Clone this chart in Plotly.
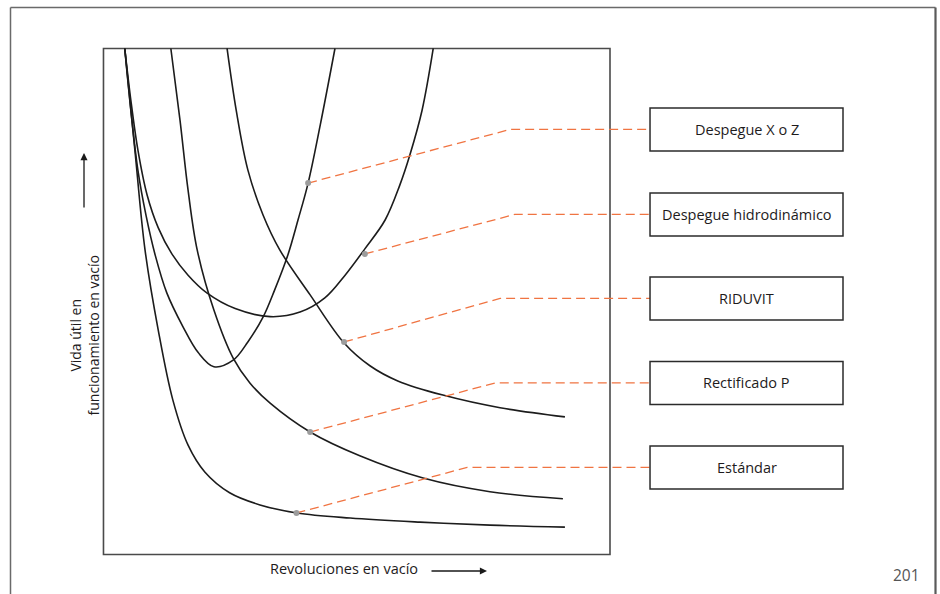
import plotly.graph_objects as go

# ---------------- data (arbitrary units; inner frame spans 0-100 on both axes) ----------------
series_names = ["Despegue X o Z", "Despegue hidrodinámico", "RIDUVIT", "Rectificado P", "Estándar"]

dxz_x = [4.2, 5.4, 6.8, 8.4, 10.2, 12.5, 15.7, 18.7, 21.8, 25.6, 28.5, 31.5, 33.8, 36.4, 38.4, 40.4, 42.8, 45.7]
dxz_y = [100, 87.8, 75.9, 67.0, 59.2, 51.7, 45.0, 39.9, 37.1, 38.4, 42.0, 46.9, 52.3, 59.2, 66.1, 73.4, 84.9, 100]

dh_x = [4.2, 5.4, 6.8, 8.6, 10.8, 13.5, 16.7, 20.4, 26.0, 32.9, 38.8, 43.7, 47.7, 51.6, 55.6, 58.5, 60.5, 62.9, 65.1]
dh_y = [100, 89.8, 79.9, 71.1, 64.6, 59.4, 55.2, 51.7, 48.6, 47.0, 47.9, 50.7, 55.2, 60.4, 66.1, 73.0, 79.0, 87.8, 100]

riduvit_x = [24.4, 26.2, 28.5, 31.5, 34.8, 40.8, 47.5, 52.6, 58.1, 67.0, 78.3, 91.1]
riduvit_y = [100, 87.8, 76.0, 67.1, 60.2, 51.3, 41.8, 37.3, 34.3, 31.5, 29.0, 27.2]

rect_x = [13.3, 15.1, 16.7, 18.5, 21.8, 25.6, 28.9, 32.9, 40.8, 50.6, 63.1, 76.3, 90.7]
rect_y = [100, 85.9, 72.0, 60.2, 48.3, 38.8, 33.9, 29.9, 24.2, 19.5, 15.1, 12.4, 11.0]

est_x = [4.2, 6.2, 8.2, 10.8, 13.7, 16.7, 20.0, 24.9, 30.9, 38.2, 48.7, 62.5, 76.3, 91.1]
est_y = [100, 79.9, 60.2, 44.4, 30.5, 21.6, 16.3, 12.2, 9.8, 8.2, 7.2, 6.4, 5.8, 5.4]

# marked point on each curve (where the callout starts)
dot_x = [40.4, 51.6, 47.5, 40.8, 38.1]
dot_y = [73.4, 59.4, 42.0, 24.2, 8.2]

# ---------------- layout helpers (positions / styles) ----------------
knee_x = [80.3, 81.2, 78.3, 77.3, 71.8]
label_y = [84.0, 67.2, 50.6, 33.9, 17.2]
box_x0, box_x1, box_h = 107.9, 146.0, 8.5

W, H = 940, 594
X_RANGE = [-20.43, 165.15]
Y_RANGE = [-7.81, 109.58]

CURVE = dict(color="#1c1c1c", width=1.6)
LEADER = dict(color="#f07442", width=1.3, dash="9px,5px")
FONT = "Open Sans, Noto Sans, sans-serif"

fig = go.Figure()

curves = [(dxz_x, dxz_y), (dh_x, dh_y), (riduvit_x, riduvit_y), (rect_x, rect_y), (est_x, est_y)]
for name, (cx, cy) in zip(series_names, curves):
    fig.add_trace(go.Scatter(x=cx, y=cy, mode="lines", line=dict(shape="spline", smoothing=1.0, **CURVE),
                             name=name, hoverinfo="name", showlegend=False))

for i, name in enumerate(series_names):
    fig.add_trace(go.Scatter(x=[dot_x[i], knee_x[i], box_x0], y=[dot_y[i], label_y[i], label_y[i]],
                             mode="lines", line=LEADER, showlegend=False, hoverinfo="skip"))

fig.add_trace(go.Scatter(x=dot_x, y=dot_y, mode="markers", marker=dict(color="#9c9c9c", size=6),
                         showlegend=False, hoverinfo="skip", cliponaxis=False))

shapes = []
# inner frame
shapes.append(dict(type="rect", xref="x", yref="y", x0=0, x1=100, y0=0, y1=100,
                   line=dict(color="#4a4a4a", width=1.6), layer="below"))
# label boxes
annotations = []
for i, name in enumerate(series_names):
    shapes.append(dict(type="rect", xref="x", yref="y", x0=box_x0, x1=box_x1,
                       y0=label_y[i] - box_h / 2, y1=label_y[i] + box_h / 2,
                       line=dict(color="#2b2b2b", width=1.5), fillcolor="white", layer="above"))
    annotations.append(dict(x=(box_x0 + box_x1) / 2, y=label_y[i], xref="x", yref="y", text=name,
                            showarrow=False, font=dict(family=FONT, size=14.5, color="#1e1b1c"),
                            xanchor="center", yanchor="middle"))

# outer page frame (open at the bottom)
fx0, fx1, fy1 = 10.5 / W, 935.5 / W, 1 - 7.5 / H
shapes.append(dict(type="line", xref="paper", yref="paper", x0=fx0, x1=fx0, y0=0, y1=fy1,
                   line=dict(color="#6a6a6a", width=1.5)))
shapes.append(dict(type="line", xref="paper", yref="paper", x0=fx0, x1=fx1, y0=fy1, y1=fy1,
                   line=dict(color="#6a6a6a", width=1.5)))
shapes.append(dict(type="line", xref="paper", yref="paper", x0=fx1, x1=fx1, y0=0, y1=fy1,
                   line=dict(color="#5a5a5a", width=2.2)))

# axis titles
annotations.append(dict(x=343.5 / W, y=1 - 568 / H, xref="paper", yref="paper",
                        text="Revoluciones en vacío", showarrow=False,
                        font=dict(family=FONT, size=14.5, color="#1e1b1c"), xanchor="center", yanchor="middle"))
annotations.append(dict(x=487 / W, y=1 - 571 / H, xref="paper", yref="paper", text="",
                        showarrow=True, ax=-57, ay=0, arrowhead=2, arrowsize=1.1, arrowwidth=1.3,
                        arrowcolor="#1a1a1a", standoff=0))
annotations.append(dict(x=83.5 / W, y=1 - 336 / H, xref="paper", yref="paper",
                        text="Vida útil en<br>funcionamiento en vacío", showarrow=False, textangle=-90,
                        font=dict(family=FONT, size=14, color="#1e1b1c"), xanchor="center", yanchor="middle"))
annotations.append(dict(x=84 / W, y=1 - 153 / H, xref="paper", yref="paper", text="",
                        showarrow=True, ax=0, ay=56, arrowhead=2, arrowsize=1.1, arrowwidth=1.3,
                        arrowcolor="#1a1a1a", standoff=0))
# page number
annotations.append(dict(x=906.5 / W, y=1 - 575 / H, xref="paper", yref="paper", text="201",
                        showarrow=False, font=dict(family=FONT, size=15.5, color="#555555"),
                        xanchor="center", yanchor="middle"))

fig.update_layout(
    width=W, height=H, autosize=False,
    margin=dict(l=0, r=0, t=0, b=0),
    paper_bgcolor="white", plot_bgcolor="white",
    xaxis=dict(range=X_RANGE, visible=False, fixedrange=True),
    yaxis=dict(range=Y_RANGE, visible=False, fixedrange=True),
    shapes=shapes, annotations=annotations, showlegend=False,
)

fig.write_html("out.html", config={"displayModeBar": False},
               post_script="document.body.style.margin='0';")
